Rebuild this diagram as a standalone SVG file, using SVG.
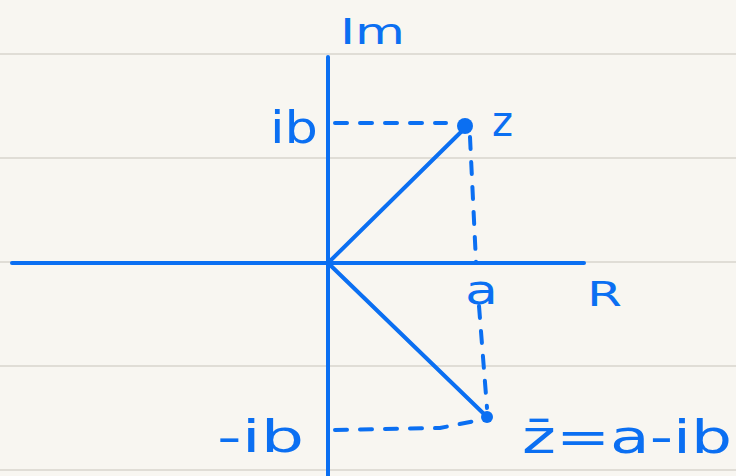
<svg xmlns="http://www.w3.org/2000/svg" width="736" height="476" viewBox="0 0 736 476">
<style>
.ink{stroke:#0b6ff2;stroke-width:4;stroke-linecap:round;fill:none}
.dash{stroke-dasharray:12 13}
.paper{stroke:#d8d4cc;stroke-width:1.5}
.lbl{font-family:"DejaVu Sans","Noto Sans",sans-serif;fill:#0b6ff2}
.dot{fill:#0b6ff2}
</style>
<rect width="736" height="476" fill="#f8f6f1"/>
<g id="paper">
<line class="paper" x1="0" y1="54" x2="736" y2="54"/>
<line class="paper" x1="0" y1="158" x2="736" y2="158"/>
<line class="paper" x1="0" y1="262" x2="736" y2="262"/>
<line class="paper" x1="0" y1="366" x2="736" y2="366"/>
<line class="paper" x1="0" y1="470" x2="736" y2="470"/>
</g>
<g id="connectors">
<line class="ink" x1="328" y1="57" x2="328" y2="476"/>
<line class="ink" x1="12" y1="263" x2="584" y2="263"/>
<line class="ink" x1="328" y1="263" x2="463" y2="130"/>
<line class="ink" x1="328" y1="263" x2="484" y2="414"/>
<line class="ink dash" x1="335" y1="123" x2="446" y2="123"/>
<line class="ink dash" x1="470" y1="137" x2="476" y2="262"/>
<line class="ink dash" x1="479" y1="306" x2="487" y2="408"/>
<path class="ink dash" d="M335 430 L440 428 L480 420"/>
</g>
<g id="z">
<circle class="dot" cx="465" cy="126" r="8"/>
<text class="lbl" x="492" y="136" font-size="42" textLength="21" lengthAdjust="spacingAndGlyphs">z</text>
</g>
<g id="zbar">
<circle class="dot" cx="487" cy="417" r="6"/>
<text class="lbl" x="522" y="453" font-size="46" textLength="210" lengthAdjust="spacingAndGlyphs">z̄=a-ib</text>
</g>
<g id="labels">
<text class="lbl" x="340" y="44" font-size="36" textLength="65" lengthAdjust="spacingAndGlyphs">Im</text>
<text class="lbl" x="270" y="143" font-size="44" textLength="48" lengthAdjust="spacingAndGlyphs">ib</text>
<text class="lbl" x="217" y="452" font-size="44" textLength="87" lengthAdjust="spacingAndGlyphs">-ib</text>
<text class="lbl" x="465" y="304" font-size="40" textLength="33" lengthAdjust="spacingAndGlyphs">a</text>
<text class="lbl" x="587" y="306" font-size="34" textLength="35" lengthAdjust="spacingAndGlyphs">R</text>
</g>
</svg>
